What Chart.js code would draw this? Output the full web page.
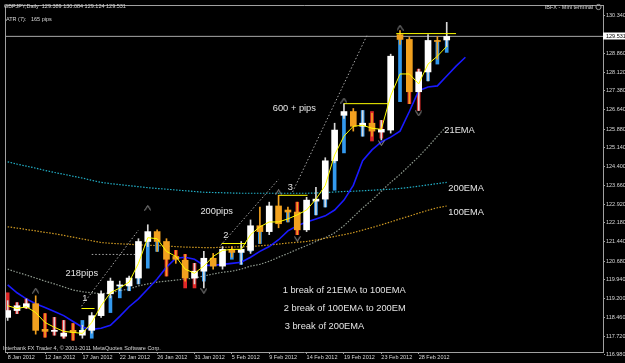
<!DOCTYPE html>
<html><head><meta charset="utf-8">
<script src="https://cdn.jsdelivr.net/npm/chart.js@4.4.0/dist/chart.umd.min.js"></script>
<style>html,body{margin:0;padding:0;background:#000;overflow:hidden}canvas{display:block}</style>
</head><body>
<canvas id="c" width="625" height="363" style="width:625px;height:363px"></canvas>
<script>
// ---- data ----
const xTickPos = [0,4,8,12,16,20,24,28,32,36,40,44];
const xTickLabels = ['8 Jan 2012','12 Jan 2012','17 Jan 2012','22 Jan 2012','26 Jan 2012','31 Jan 2012','5 Feb 2012','9 Feb 2012','14 Feb 2012','19 Feb 2012','23 Feb 2012','28 Feb 2012'];
const yTicks = [130.340,128.860,128.120,127.380,126.640,125.880,125.140,124.400,123.660,122.920,122.180,121.440,120.680,119.940,119.200,118.460,117.720,116.980];

const opens  = [118.46,118.73,118.85,119.00,117.99,117.91,117.72,117.95,117.76,117.95,118.53,119.39,119.70,119.70,120.01,121.45,121.84,121.45,120.86,120.71,120.01,120.28,120.79,120.48,121.14,121.02,121.10,122.07,121.84,122.85,122.69,122.61,121.91,123.04,123.12,124.63,126.42,126.57,125.99,126.11,125.76,125.84,129.60,129.41,127.35,128.13,129.37,129.389];
const highs  = [119.12,119.04,119.19,119.31,118.61,118.46,118.34,118.22,118.15,118.65,119.51,120.01,119.89,120.09,121.56,122.11,121.91,121.56,121.10,120.94,120.59,121.06,120.98,121.25,121.25,121.45,122.30,122.81,123.00,123.27,122.81,123.00,123.19,123.58,124.75,126.11,126.88,126.69,126.61,126.50,126.22,128.83,129.76,129.49,128.24,129.60,129.52,130.084];
const lows   = [118.34,118.61,118.81,117.80,117.68,117.76,117.64,117.56,117.64,117.84,118.46,119.23,119.51,119.51,119.78,121.25,121.06,120.09,120.59,119.89,119.78,119.62,120.36,120.36,120.83,120.55,120.98,121.37,121.72,121.99,122.22,121.72,121.84,122.50,122.81,124.55,126.30,125.80,125.60,125.60,125.45,125.72,129.21,126.88,126.61,127.78,128.63,129.124];
const closes = [118.73,118.92,119.00,117.95,117.91,117.95,117.84,117.87,117.95,118.53,119.39,119.89,119.74,120.01,121.45,121.84,121.45,120.75,120.75,120.01,120.28,120.79,120.48,121.14,121.02,121.14,122.07,121.84,122.85,122.15,122.61,121.91,123.08,123.12,124.63,125.84,126.57,125.99,126.11,125.80,125.87,128.75,129.41,127.35,128.13,129.37,129.33,129.531];

const haOpen  = [119.43,119.04,119.19,118.73,118.61,118.46,118.34,118.22,117.95,117.64,118.53,118.65,119.23,119.51,119.78,120.40,121.06,120.75,121.10,120.94,120.59,119.89,null,null,120.75,120.55,121.06,121.37,121.95,null,122.22,123.00,null,122.50,122.81,123.47,124.94,null,125.60,126.57,126.22,null,126.96,127.35,128.24,127.78,128.44,128.90];
const haClose = [118.73,118.61,118.81,118.15,117.68,117.76,117.64,117.56,118.34,117.95,119.12,119.31,119.70,119.89,120.28,121.45,121.45,120.09,120.79,119.62,119.62,120.59,null,null,121.06,121.06,121.84,121.84,122.34,null,122.61,121.72,null,123.04,123.12,124.63,126.42,null,126.61,125.41,125.52,null,129.41,126.88,126.61,128.13,129.37,129.37];

const fastLine = [118.92,118.81,118.88,118.65,118.26,118.07,117.91,117.87,117.83,118.26,118.92,119.43,119.62,119.85,120.59,121.60,121.56,121.06,120.86,120.36,120.20,120.48,120.86,121.10,121.14,121.14,121.72,122.03,122.22,122.22,122.34,122.50,122.69,123.12,123.66,124.86,125.60,125.99,126.03,125.91,125.87,127.19,128.05,128.05,127.66,128.44,128.75,129.14];
const blueLine = [119.74,119.43,119.19,119.00,118.85,118.69,118.53,118.30,118.07,117.99,118.03,118.15,118.50,118.88,119.19,119.58,119.97,120.44,120.79,120.83,120.75,120.51,120.51,120.55,120.59,120.63,120.83,121.06,121.25,121.52,121.87,122.07,122.22,122.34,122.46,122.69,123.08,123.66,124.63,125.06,125.37,125.56,125.80,126.57,127.39,127.54,127.58,127.97,128.36,128.71];
const ema21  = [120.36,120.24,120.13,120.01,119.89,119.78,119.66,119.54,119.47,119.43,119.39,119.43,119.51,119.58,119.70,119.78,119.85,119.89,119.93,119.97,120.01,120.09,120.17,120.24,120.28,120.36,120.48,120.55,120.67,120.83,120.98,121.14,121.29,121.45,121.60,121.79,122.07,122.42,122.77,123.08,123.43,123.78,124.09,124.44,124.79,125.18,125.60,125.99];
const ema100 = [122.03,121.98,121.92,121.87,121.81,121.76,121.69,121.62,121.55,121.48,121.41,121.38,121.36,121.34,121.32,121.30,121.29,121.27,121.25,121.23,121.22,121.21,121.21,121.22,121.23,121.24,121.25,121.28,121.31,121.35,121.39,121.42,121.45,121.51,121.58,121.65,121.72,121.80,121.90,122.00,122.11,122.22,122.34,122.45,122.57,122.68,122.78,122.85];
const ema200 = [124.59,124.50,124.42,124.34,124.25,124.17,124.10,124.02,123.95,123.86,123.78,123.73,123.69,123.65,123.61,123.57,123.54,123.51,123.48,123.45,123.42,123.39,123.38,123.37,123.36,123.35,123.35,123.35,123.35,123.35,123.35,123.35,123.35,123.36,123.38,123.40,123.42,123.43,123.45,123.47,123.49,123.51,123.54,123.58,123.63,123.68,123.73,123.78];

const fractalUpX = [3,15,29,36,42];
const fractalUpY = [119.51,122.77,123.39,127.00,129.87];
const fractalDnX = [21,31,40,44];
const fractalDnY = [119.51,121.56,125.33,126.50];

const levelStart = [7.9,22.9,29.0,36.0,41.6];
const levelEnd   = [9.3,25.5,32.1,40.8,48.0];
const levelPrice = [118.81,121.37,123.27,126.88,129.64];

const trendX1 = [7.9,22.8,30.5,9.0];
const trendY1 = [118.90,121.30,123.40,120.94];
const trendX2 = [14.0,29.0,38.5,13.8];
const trendY2 = [121.90,123.90,129.60,120.94];

const bidPrice = 129.531;

// ---- drawing ----
const ORANGE = '#f2a11f';
const WHITE = '#ffffff';
const X_MIN = -0.286, X_MAX = 63.73;
const Y_MIN = 117.097, Y_MAX = 130.767;
const FONT = 'Liberation Sans';
const AXC = '#a0a0a0';

function chevron(up){
  const c = document.createElement('canvas'); c.width = 7; c.height = 6;
  const g = c.getContext('2d'); g.strokeStyle = '#9a9a9a'; g.lineWidth = 1; g.beginPath();
  if (up){ g.moveTo(0.5,5.5); g.lineTo(3.5,0.5); g.lineTo(6.5,5.5); }
  else { g.moveTo(0.5,0.5); g.lineTo(3.5,5.5); g.lineTo(6.5,0.5); }
  g.stroke(); return c;
}

const datasets = [];
datasets.push({type:'line', data:[{x:X_MIN-1,y:bidPrice},{x:X_MAX+1,y:bidPrice}], borderColor:'#a8a8a8', borderWidth:1, pointRadius:0, order:30});
const dotted = (arr,color,order)=>({type:'line', data:arr.map((v,i)=>({x:i,y:v})), borderColor:color, borderWidth:1.2, borderDash:[1.5,1.5], pointRadius:0, order});
datasets.push(dotted(ema200,'#22b0c8',20));
datasets.push(dotted(ema100,'#d09a22',21));
datasets.push(dotted(ema21,'#8f9a8f',22));
for (let k=0;k<trendX1.length;k++){
  datasets.push({type:'line', data:[{x:trendX1[k],y:trendY1[k]},{x:trendX2[k],y:trendY2[k]}], borderColor:'#a8a8a8', borderWidth:1, borderDash:[1.5,2], pointRadius:0, order:19});
}
// Heiken Ashi bars
const haData = [];
haOpen.forEach((o,i)=>{ if (o!==null) haData.push({x:i,y:[o,haClose[i]]}); });
datasets.push({type:'bar', data:haData, barThickness:3, grouped:false, borderWidth:0,
  backgroundColor: c => (c.raw && c.raw.y[1] > c.raw.y[0]) ? '#3399ee' : '#e02828', order:12});
datasets.push({type:'line', data:blueLine.map((v,i)=>({x:i,y:v})), borderColor:'#1a1aff', borderWidth:1.6, pointRadius:0, order:11});
// candle wicks and bodies
datasets.push({type:'bar', data:highs.map((h,i)=>({x:i,y:[lows[i],h]})), barThickness:1, grouped:false, borderWidth:0,
  backgroundColor: c => closes[c.dataIndex] >= opens[c.dataIndex] ? '#d8d8d8' : ORANGE, order:10});
datasets.push({type:'bar', data:opens.map((o,i)=>({x:i,y:[o,closes[i]]})), barThickness:6, grouped:false, borderWidth:0,
  backgroundColor: c => closes[c.dataIndex] >= opens[c.dataIndex] ? WHITE : ORANGE, order:9});
datasets.push({type:'line', data:fastLine.map((v,i)=>({x:i,y:v})), borderColor:'#ffff00', borderWidth:1, pointRadius:0, order:5});
for (let k=0;k<levelStart.length;k++){
  datasets.push({type:'line', data:[{x:levelStart[k],y:levelPrice[k]},{x:levelEnd[k],y:levelPrice[k]}], borderColor:'#ffff00', borderWidth:1, pointRadius:0, order:4});
}
datasets.push({type:'line', data:fractalUpX.map((x,i)=>({x,y:fractalUpY[i]})), showLine:false, pointStyle:chevron(true), pointRadius:3, order:2});
datasets.push({type:'line', data:fractalDnX.map((x,i)=>({x,y:fractalDnY[i]})), showLine:false, pointStyle:chevron(false), pointRadius:3, order:2});

const notes = [
  ['218pips',6.19,120.20],['1',7.99,119.19],['200pips',20.63,122.65],['2',23.07,121.68],['3',29.97,123.58],
  ['600 + pips',28.38,126.69],['21EMA',46.74,125.84],['200EMA',47.17,123.54],['100EMA',47.17,122.61],
  ['1 break of 21EMA to 100EMA',29.44,119.54],['2 break of 100EMA to 200EM',29.55,118.81],['3 break of 200EMA',29.65,118.11]
];

const decor = {
  id:'decor',
  afterDatasetsDraw(chart){
    const {ctx, scales:{x,y}} = chart;
    ctx.save();
    ctx.fillStyle = '#e4e4e4'; ctx.font = '9.3px "'+FONT+'"'; ctx.textBaseline = 'middle'; ctx.textAlign = 'left';
    for (const [t,i,p] of notes) ctx.fillText(t, x.getPixelForValue(i), y.getPixelForValue(p));
    ctx.restore();
  },
  afterDraw(chart){
    const {ctx, chartArea:a, scales:{y}} = chart;
    ctx.save();
    ctx.strokeStyle = AXC; ctx.lineWidth = 1;
    ctx.beginPath(); ctx.moveTo(a.left+0.5, a.bottom); ctx.lineTo(a.left+0.5, a.top+0.5); ctx.lineTo(a.right, a.top+0.5); ctx.stroke();
    ctx.font = '5.5px "'+FONT+'"'; ctx.textBaseline = 'middle'; ctx.fillStyle = '#d8d8d8'; ctx.textAlign = 'left';
    ctx.fillText('GBPJPY,Daily  129.389 130.084 129.124 129.531', 4, 6);
    ctx.fillText('ATR (7):   165 pips', 6, 19);
    ctx.fillText('Interbank FX Trader 4, \u00a9 2001-2011 MetaQuotes Software Corp.', 3, 348);
    ctx.textAlign = 'right';
    ctx.fillText('IBFX - Mini terminal', 593, 7);
    ctx.beginPath(); ctx.arc(598.5, 7, 2.6, 0, Math.PI*2); ctx.stroke();
    const by = y.getPixelForValue(bidPrice);
    ctx.fillStyle = '#ffffff'; ctx.fillRect(603, Math.round(by)-3.5, 22, 7);
    ctx.fillStyle = '#000000'; ctx.textAlign = 'left'; ctx.fillText(bidPrice.toFixed(3), 606, by);
    ctx.restore();
  }
};

new Chart(document.getElementById('c'), {
  type:'bar',
  data:{datasets},
  options:{
    responsive:false, animation:false, devicePixelRatio:1,
    layout:{padding:0},
    plugins:{legend:{display:false}, tooltip:{enabled:false}},
    scales:{
      x:{type:'linear', position:'bottom', min:X_MIN, max:X_MAX, offset:false,
        afterBuildTicks: s => { s.ticks = xTickPos.map(v=>({value:v})); },
        afterFit: s => { s.height = 11; s.paddingLeft = 0; s.paddingRight = 0; },
        ticks:{callback:(v,i)=>xTickLabels[i], align:'start', maxRotation:0, minRotation:0, autoSkip:false,
          font:{family:FONT, size:5.5}, color:'#d8d8d8', padding:0},
        grid:{display:true, offset:false, drawOnChartArea:false, drawTicks:true, tickLength:2, color:AXC},
        border:{display:true, color:AXC}
      },
      y:{type:'linear', position:'right', min:Y_MIN, max:Y_MAX, beginAtZero:false,
        afterBuildTicks: s => { s.ticks = yTicks.map(v=>({value:v})); },
        afterFit: s => { s.width = 22; s.paddingTop = 0; s.paddingBottom = 0; },
        ticks:{callback:v=>Number(v).toFixed(3), autoSkip:false, font:{family:FONT, size:5.5}, color:'#d8d8d8', padding:1},
        grid:{display:true, drawOnChartArea:false, drawTicks:true, tickLength:2, color:AXC},
        border:{display:true, color:AXC}
      }
    }
  },
  plugins:[decor]
});
</script>
</body></html>
